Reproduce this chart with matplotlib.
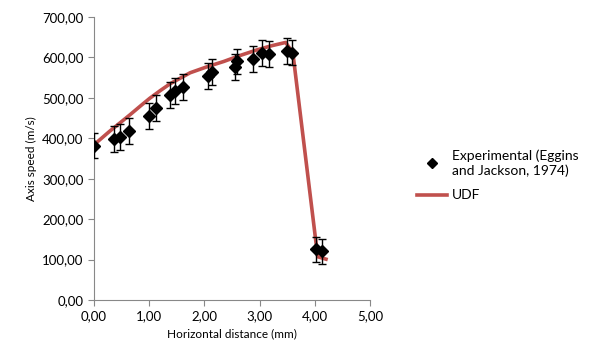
import matplotlib.pyplot as plt
from matplotlib.lines import Line2D
from matplotlib.ticker import FuncFormatter

plt.rcParams['font.family'] = ['Lato', 'DejaVu Sans']

# Experimental data (Eggins and Jackson, 1974)
exp_x = [0.00, 0.36, 0.47, 0.64, 1.00, 1.12, 1.37, 1.47, 1.61, 2.07, 2.14,
         2.55, 2.59, 2.88, 3.05, 3.17, 3.49, 3.59, 4.02, 4.13]
exp_y = [382, 398, 403, 419, 455, 474, 506, 516, 526, 554, 564,
         576, 590, 596, 611, 608, 616, 612, 125, 120]
exp_err = [32] * len(exp_x)

# UDF simulation
udf_x = [0.00, 0.28, 0.65, 0.85, 1.01, 1.20, 1.38, 1.74, 2.05, 2.35, 2.65, 2.96, 3.22, 3.47,
         3.60, 4.05, 4.20]
udf_y = [384, 417, 458, 481, 499, 518, 535, 562, 577, 590, 605, 619, 629, 637,
         611, 107, 101]

fig = plt.figure(figsize=(5.99, 3.61), dpi=100)
ax = fig.add_axes([0.157, 0.169, 0.461, 0.784])

ax.plot(udf_x, udf_y, color='#C0504D', linewidth=2.6, zorder=2)
ax.errorbar(exp_x, exp_y, yerr=exp_err, fmt='D', color='black', ms=6.2,
            ecolor='black', elinewidth=1, capsize=3, capthick=1, zorder=3)

ax.set_xlim(0, 5)
ax.set_ylim(0, 700)
ax.set_xticks([0, 1, 2, 3, 4, 5])
ax.set_yticks(range(0, 701, 100))
fmt = FuncFormatter(lambda v, p: f'{v:.2f}'.replace('.', ','))
ax.xaxis.set_major_formatter(fmt)
ax.yaxis.set_major_formatter(fmt)
ax.tick_params(labelsize=9.5, color='#888888', length=4, direction='out')
for s in ['top', 'right']:
    ax.spines[s].set_visible(False)
for s in ['left', 'bottom']:
    ax.spines[s].set_color('#888888')

ax.set_xlabel('Horizontal distance (mm)', fontsize=8.5)
ax.set_ylabel('Axis speed (m/s)', fontsize=8.5)

handles = [Line2D([], [], marker='D', color='black', ls='none', ms=5),
           Line2D([], [], color='#C0504D', lw=2.6)]
labels = ['Experimental (Eggins\nand Jackson, 1974)', 'UDF']
fig.legend(handles, labels, loc='upper left', bbox_to_anchor=(0.675, 0.62),
           frameon=False, fontsize=10, handlelength=2.2, labelspacing=0.9,
           handletextpad=0.3)

fig.savefig('out.png', dpi=100)
